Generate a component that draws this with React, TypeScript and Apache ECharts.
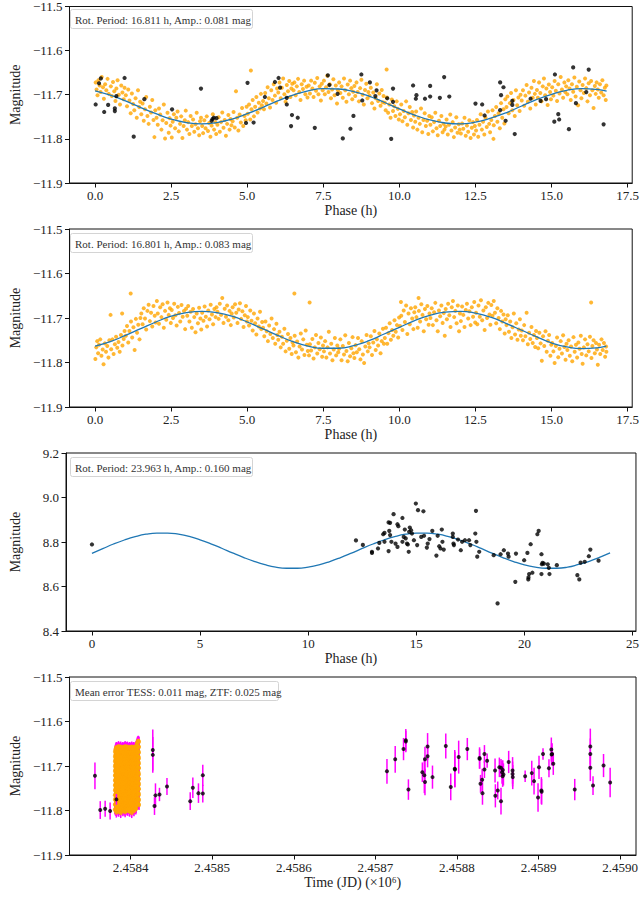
import React, { useEffect, useRef } from "react";
import * as echarts from "echarts";

const FONT = '"Liberation Serif", "DejaVu Serif", serif';

// ---------- Panel 1: TESS + ZTF phased, P = 16.811 h ----------
const p1Fit: [number, number][] = [
  [0, -11.691], [0.5, -11.701], [1, -11.714], [1.5, -11.729], [2, -11.743], [2.5, -11.755], [3, -11.763], [3.5, -11.766],
  [4, -11.763], [4.5, -11.755], [5, -11.743], [5.5, -11.729], [6, -11.714], [6.5, -11.701], [7, -11.691], [7.5, -11.686],
  [8, -11.687], [8.5, -11.693], [9, -11.703], [9.5, -11.717], [10, -11.732], [10.5, -11.746], [11, -11.757], [11.5, -11.764],
  [12, -11.766], [12.5, -11.762], [13, -11.753], [13.5, -11.741], [14, -11.726], [14.5, -11.711], [15, -11.699], [15.5, -11.690],
  [16, -11.686], [16.5, -11.688], [16.81, -11.692],
];

const p1Tess: [number, number][] = [
  [0.02,-11.672],[0.05,-11.688],[0.08,-11.701],[0.11,-11.667],[0.15,-11.679],[0.18,-11.694],[0.22,-11.660],[0.26,-11.683],[0.29,-11.709],[0.33,-11.676],[0.37,-11.690],[0.41,-11.664],[0.45,-11.698],
  [0.52,-11.681],[0.55,-11.703],[0.59,-11.671],[0.63,-11.692],[0.67,-11.714],[0.70,-11.686],[0.74,-11.667],[0.78,-11.700],[0.82,-11.722],[0.86,-11.679],[0.90,-11.695],[0.94,-11.710],[0.97,-11.684],
  [1.01,-11.701],[1.05,-11.726],[1.09,-11.688],[1.13,-11.713],[1.17,-11.742],[1.21,-11.697],[1.25,-11.721],[1.29,-11.735],[1.33,-11.708],[1.37,-11.752],[1.41,-11.690],[1.45,-11.728],[1.48,-11.716],
  [1.52,-11.744],[1.56,-11.720],[1.60,-11.759],[1.64,-11.733],[1.68,-11.705],[1.72,-11.748],[1.76,-11.766],[1.80,-11.727],[1.84,-11.740],[1.88,-11.712],[1.92,-11.757],[1.95,-11.796],[1.98,-11.735],
  [2.02,-11.752],[2.06,-11.768],[2.10,-11.731],[2.14,-11.745],[2.18,-11.779],[2.22,-11.758],[2.26,-11.722],[2.30,-11.799],[2.34,-11.764],[2.38,-11.741],[2.42,-11.786],[2.45,-11.753],[2.48,-11.770],
  [2.52,-11.797],[2.55,-11.761],[2.59,-11.744],[2.63,-11.776],[2.67,-11.752],[2.71,-11.738],[2.75,-11.783],[2.79,-11.766],[2.83,-11.749],[2.87,-11.798],[2.91,-11.771],[2.95,-11.758],[2.98,-11.736],
  [3.02,-11.779],[3.06,-11.762],[3.10,-11.789],[3.14,-11.748],[3.18,-11.771],[3.22,-11.756],[3.26,-11.784],[3.30,-11.767],[3.34,-11.741],[3.38,-11.776],[3.42,-11.792],[3.45,-11.760],[3.48,-11.752],
  [3.52,-11.771],[3.55,-11.787],[3.59,-11.758],[3.63,-11.776],[3.67,-11.749],[3.71,-11.782],[3.75,-11.764],[3.79,-11.795],[3.83,-11.770],[3.87,-11.744],[3.91,-11.779],[3.95,-11.762],[3.98,-11.789],
  [4.02,-11.768],[4.06,-11.751],[4.10,-11.784],[4.14,-11.762],[4.18,-11.740],[4.22,-11.775],[4.26,-11.757],[4.30,-11.793],[4.34,-11.766],[4.38,-11.746],[4.42,-11.779],[4.45,-11.755],[4.48,-11.769],
  [4.52,-11.760],[4.55,-11.739],[4.59,-11.774],[4.63,-11.692],[4.67,-11.752],[4.71,-11.781],[4.75,-11.745],[4.79,-11.763],[4.83,-11.730],[4.87,-11.771],[4.91,-11.748],[4.95,-11.758],[4.98,-11.727],
  [5.02,-11.743],[5.06,-11.722],[5.10,-11.756],[5.12,-11.645],[5.14,-11.733],[5.18,-11.712],[5.22,-11.749],[5.26,-11.727],[5.30,-11.705],[5.34,-11.740],[5.38,-11.718],[5.42,-11.731],[5.45,-11.698],[5.48,-11.724],
  [5.52,-11.714],[5.55,-11.733],[5.59,-11.696],[5.63,-11.720],[5.67,-11.683],[5.71,-11.708],[5.75,-11.729],[5.79,-11.690],[5.83,-11.712],[5.87,-11.676],[5.91,-11.702],[5.95,-11.718],[5.98,-11.686],
  [6.02,-11.695],[6.06,-11.672],[6.10,-11.708],[6.14,-11.684],[6.18,-11.663],[6.22,-11.699],[6.26,-11.716],[6.30,-11.678],[6.34,-11.692],[6.38,-11.669],[6.42,-11.705],[6.45,-11.686],[6.48,-11.675],
  [6.52,-11.690],[6.55,-11.672],[6.59,-11.701],[6.63,-11.681],[6.67,-11.664],[6.71,-11.694],[6.75,-11.712],[6.79,-11.676],[6.83,-11.687],[6.87,-11.668],[6.91,-11.699],[6.95,-11.682],[6.98,-11.706],
  [7.02,-11.679],[7.06,-11.697],[7.10,-11.668],[7.14,-11.686],[7.18,-11.705],[7.22,-11.673],[7.26,-11.691],[7.30,-11.662],[7.34,-11.699],[7.38,-11.681],[7.42,-11.713],[7.45,-11.675],[7.48,-11.690],
  [7.52,-11.668],[7.55,-11.699],[7.59,-11.683],[7.63,-11.657],[7.67,-11.694],[7.71,-11.676],[7.75,-11.708],[7.79,-11.688],[7.83,-11.665],[7.87,-11.701],[7.91,-11.679],[7.95,-11.720],[7.98,-11.690],
  [8.02,-11.672],[8.06,-11.696],[8.10,-11.681],[8.14,-11.707],[8.18,-11.663],[8.22,-11.690],[8.26,-11.716],[8.30,-11.677],[8.34,-11.699],[8.38,-11.668],[8.42,-11.685],[8.45,-11.710],[8.48,-11.693],
  [8.52,-11.680],[8.55,-11.703],[8.59,-11.672],[8.63,-11.694],[8.67,-11.715],[8.71,-11.685],[8.75,-11.666],[8.79,-11.700],[8.83,-11.722],[8.87,-11.689],[8.91,-11.675],[8.95,-11.708],[8.98,-11.694],
  [9.02,-11.702],[9.06,-11.684],[9.10,-11.719],[9.14,-11.695],[9.18,-11.731],[9.22,-11.708],[9.26,-11.676],[9.30,-11.714],[9.34,-11.697],[9.38,-11.725],[9.42,-11.689],[9.45,-11.717],[9.48,-11.703],
  [9.52,-11.718],[9.55,-11.735],[9.58,-11.643],[9.59,-11.706],[9.63,-11.741],[9.67,-11.722],[9.71,-11.752],[9.75,-11.711],[9.79,-11.737],[9.83,-11.726],[9.87,-11.748],[9.91,-11.715],[9.95,-11.732],[9.98,-11.756],
  [10.02,-11.744],[10.06,-11.722],[10.10,-11.760],[10.14,-11.737],[10.18,-11.751],[10.22,-11.715],[10.26,-11.768],[10.30,-11.742],[10.34,-11.728],[10.38,-11.757],[10.42,-11.739],[10.45,-11.774],[10.48,-11.747],
  [10.52,-11.761],[10.55,-11.738],[10.59,-11.779],[10.63,-11.752],[10.67,-11.766],[10.71,-11.731],[10.75,-11.785],[10.79,-11.757],[10.83,-11.742],[10.87,-11.771],[10.91,-11.759],[10.95,-11.789],[10.98,-11.748],
  [11.02,-11.768],[11.06,-11.751],[11.10,-11.783],[11.14,-11.762],[11.18,-11.741],[11.22,-11.776],[11.26,-11.792],[11.30,-11.759],[11.34,-11.771],[11.38,-11.748],[11.42,-11.785],[11.45,-11.766],[11.48,-11.779],
  [11.52,-11.772],[11.55,-11.756],[11.59,-11.790],[11.63,-11.768],[11.67,-11.745],[11.71,-11.781],[11.75,-11.762],[11.79,-11.796],[11.83,-11.774],[11.87,-11.751],[11.91,-11.786],[11.95,-11.767],[11.98,-11.779],
  [12.02,-11.788],[12.06,-11.765],[12.10,-11.777],[12.14,-11.752],[12.18,-11.793],[12.22,-11.770],[12.26,-11.784],[12.30,-11.758],[12.34,-11.798],[12.38,-11.775],[12.42,-11.762],[12.45,-11.790],[12.48,-11.771],
  [12.52,-11.781],[12.55,-11.757],[12.59,-11.795],[12.63,-11.768],[12.67,-11.744],[12.71,-11.779],[12.75,-11.761],[12.79,-11.790],[12.83,-11.752],[12.87,-11.773],[12.91,-11.738],[12.95,-11.766],[12.98,-11.785],
  [13.02,-11.757],[13.06,-11.735],[13.09,-11.800],[13.10,-11.769],[13.14,-11.748],[13.18,-11.728],[13.22,-11.761],[13.26,-11.742],[13.30,-11.776],[13.34,-11.719],[13.38,-11.752],[13.42,-11.733],[13.45,-11.765],[13.48,-11.710],
  [13.52,-11.728],[13.55,-11.704],[13.59,-11.742],[13.63,-11.719],[13.67,-11.696],[13.71,-11.735],[13.75,-11.712],[13.79,-11.748],[13.83,-11.690],[13.87,-11.724],[13.91,-11.706],[13.95,-11.737],[13.98,-11.700],
  [14.02,-11.713],[14.06,-11.690],[14.10,-11.725],[14.14,-11.702],[14.18,-11.678],[14.22,-11.716],[14.26,-11.695],[14.30,-11.731],[14.34,-11.684],[14.38,-11.707],[14.42,-11.669],[14.45,-11.698],[14.48,-11.722],
  [14.52,-11.689],[14.55,-11.707],[14.59,-11.672],[14.63,-11.696],[14.67,-11.715],[14.71,-11.681],[14.75,-11.663],[14.79,-11.701],[14.83,-11.686],[14.87,-11.723],[14.91,-11.677],[14.95,-11.694],[14.98,-11.710],
  [15.02,-11.683],[15.06,-11.702],[15.10,-11.669],[15.14,-11.691],[15.18,-11.714],[15.22,-11.676],[15.26,-11.697],[15.30,-11.660],[15.34,-11.688],[15.38,-11.707],[15.42,-11.672],[15.45,-11.694],[15.48,-11.681],
  [15.52,-11.699],[15.55,-11.667],[15.59,-11.686],[15.63,-11.712],[15.67,-11.676],[15.71,-11.693],[15.75,-11.661],[15.79,-11.704],[15.83,-11.682],[15.87,-11.724],[15.91,-11.670],[15.95,-11.690],[15.98,-11.708],
  [16.02,-11.678],[16.06,-11.696],[16.10,-11.663],[16.14,-11.685],[16.18,-11.715],[16.22,-11.674],[16.26,-11.701],[16.30,-11.669],[16.34,-11.690],[16.38,-11.730],[16.42,-11.680],[16.45,-11.698],[16.48,-11.672],
  [16.52,-11.688],[16.55,-11.707],[16.59,-11.676],[16.63,-11.695],[16.67,-11.667],[16.71,-11.701],[16.75,-11.684],[16.78,-11.712],[16.80,-11.679],
];

const p1Ztf: [number, number][] = [
  [0.02,-11.722],[0.13,-11.674],[0.19,-11.663],[0.30,-11.739],[0.43,-11.723],[0.65,-11.731],[0.65,-11.737],[0.70,-11.703],
  [0.97,-11.662],[1.27,-11.795],[1.62,-11.710],[2.53,-11.733],[3.48,-11.686],[3.83,-11.759],[3.86,-11.755],[3.90,-11.752],
  [3.99,-11.753],[4.96,-11.764],[5.01,-11.673],[5.21,-11.763],[5.58,-11.705],[5.91,-11.671],[6.03,-11.662],[6.08,-11.684],
  [6.30,-11.707],[6.30,-11.722],[6.47,-11.746],[6.44,-11.771],[6.66,-11.752],[7.22,-11.775],[7.65,-11.656],[7.70,-11.678],
  [7.97,-11.698],[8.14,-11.799],[8.39,-11.777],[8.49,-11.748],[8.75,-11.654],[8.78,-11.713],[9.03,-11.672],[9.21,-11.703],
  [9.25,-11.690],[9.60,-11.708],[9.73,-11.800],[9.79,-11.716],[9.79,-11.686],[10.45,-11.679],[10.54,-11.709],[10.56,-11.701],
  [10.84,-11.709],[11.01,-11.680],[11.01,-11.704],[11.33,-11.707],[11.47,-11.660],[11.64,-11.704],[12.50,-11.720],[12.72,-11.722],
  [12.80,-11.747],[13.31,-11.735],[13.31,-11.672],[13.42,-11.683],[13.34,-11.701],[13.49,-11.759],[13.71,-11.714],[13.71,-11.723],
  [13.79,-11.789],[14.31,-11.709],[14.64,-11.714],[14.82,-11.710],[15.09,-11.761],[15.11,-11.654],[15.22,-11.744],[15.25,-11.756],
  [15.57,-11.778],[15.71,-11.638],[15.80,-11.719],[16.14,-11.694],[16.22,-11.643],[16.71,-11.767],
];

// ---------- Panel 2: TESS phased, P = 16.801 h ----------
const p2Fit: [number, number][] = [
  [0, -11.763], [0.5, -11.753], [1, -11.739], [1.5, -11.724], [2, -11.709], [2.5, -11.696], [3, -11.688], [3.5, -11.685],
  [4, -11.688], [4.5, -11.696], [5, -11.709], [5.5, -11.724], [6, -11.739], [6.5, -11.753], [7, -11.763], [7.5, -11.768],
  [8, -11.768], [8.5, -11.762], [9, -11.751], [9.5, -11.736], [10, -11.721], [10.5, -11.706], [11, -11.694], [11.5, -11.687],
  [12, -11.685], [12.5, -11.689], [13, -11.698], [13.5, -11.712], [14, -11.727], [14.5, -11.742], [15, -11.756], [15.5, -11.765],
  [16, -11.769], [16.5, -11.767], [16.8, -11.763],
];

const p2Tess: [number, number][] = [
  [0.01,-11.792],[0.04,-11.766],[0.07,-11.752],[0.10,-11.779],[0.13,-11.760],[0.17,-11.748],[0.21,-11.785],[0.25,-11.771],[0.28,-11.804],[0.32,-11.757],[0.36,-11.776],[0.40,-11.763],[0.44,-11.789],[0.47,-11.750],
  [0.51,-11.693],[0.53,-11.770],[0.57,-11.748],[0.61,-11.781],[0.65,-11.759],[0.69,-11.742],[0.73,-11.767],[0.77,-11.754],[0.81,-11.776],[0.85,-11.738],[0.89,-11.690],[0.90,-11.762],[0.94,-11.747],[0.97,-11.729],
  [1.01,-11.740],[1.05,-11.718],[1.09,-11.755],[1.13,-11.729],[1.17,-11.645],[1.18,-11.708],[1.22,-11.744],[1.26,-11.721],[1.30,-11.772],[1.34,-11.702],[1.38,-11.733],[1.42,-11.715],[1.46,-11.748],[1.49,-11.700],
  [1.52,-11.690],[1.56,-11.714],[1.60,-11.678],[1.64,-11.701],[1.68,-11.726],[1.72,-11.684],[1.76,-11.670],[1.80,-11.707],[1.84,-11.688],[1.88,-11.719],[1.92,-11.673],[1.96,-11.695],[1.99,-11.710],
  [2.03,-11.662],[2.06,-11.690],[2.10,-11.713],[2.14,-11.676],[2.18,-11.698],[2.22,-11.669],[2.26,-11.722],[2.30,-11.684],[2.34,-11.704],[2.38,-11.665],[2.42,-11.693],[2.46,-11.678],[2.49,-11.711],
  [2.52,-11.682],[2.56,-11.700],[2.60,-11.668],[2.64,-11.694],[2.68,-11.717],[2.72,-11.675],[2.76,-11.689],[2.80,-11.708],[2.84,-11.671],[2.88,-11.697],[2.92,-11.684],[2.96,-11.725],[2.99,-11.679],
  [3.03,-11.695],[3.06,-11.673],[3.10,-11.708],[3.14,-11.686],[3.18,-11.722],[3.22,-11.680],[3.26,-11.698],[3.30,-11.732],[3.34,-11.690],[3.38,-11.712],[3.42,-11.677],[3.46,-11.701],[3.49,-11.726],
  [3.52,-11.688],[3.56,-11.706],[3.60,-11.674],[3.64,-11.697],[3.68,-11.719],[3.72,-11.683],[3.76,-11.703],[3.80,-11.670],[3.84,-11.692],[3.88,-11.714],[3.92,-11.680],[3.96,-11.698],[3.99,-11.676],
  [4.02,-11.686],[4.06,-11.702],[4.10,-11.668],[4.14,-11.693],[4.18,-11.655],[4.22,-11.711],[4.26,-11.679],[4.30,-11.697],[4.34,-11.672],[4.38,-11.705],[4.42,-11.684],[4.46,-11.716],[4.49,-11.690],
  [4.52,-11.676],[4.56,-11.699],[4.60,-11.669],[4.64,-11.688],[4.68,-11.711],[4.72,-11.681],[4.76,-11.667],[4.80,-11.702],[4.84,-11.685],[4.88,-11.720],[4.92,-11.694],[4.96,-11.673],[4.99,-11.708],
  [5.02,-11.698],[5.06,-11.717],[5.10,-11.683],[5.14,-11.706],[5.18,-11.728],[5.22,-11.690],[5.26,-11.712],[5.30,-11.737],[5.34,-11.701],[5.38,-11.719],[5.42,-11.686],[5.46,-11.725],[5.49,-11.709],
  [5.52,-11.722],[5.56,-11.741],[5.60,-11.708],[5.64,-11.730],[5.68,-11.752],[5.72,-11.717],[5.76,-11.736],[5.80,-11.701],[5.84,-11.745],[5.88,-11.725],[5.92,-11.758],[5.96,-11.713],[5.99,-11.738],
  [6.02,-11.749],[6.06,-11.731],[6.10,-11.766],[6.14,-11.742],[6.18,-11.758],[6.22,-11.724],[6.26,-11.775],[6.30,-11.751],[6.34,-11.736],[6.38,-11.769],[6.42,-11.745],[6.46,-11.781],[6.49,-11.755],
  [6.52,-11.762],[6.55,-11.645],[6.56,-11.740],[6.60,-11.777],[6.64,-11.753],[6.68,-11.789],[6.72,-11.764],[6.76,-11.735],[6.80,-11.771],[6.84,-11.748],[6.88,-11.783],[6.92,-11.728],[6.96,-11.760],[6.99,-11.774],
  [7.03,-11.784],[7.05,-11.665],[7.06,-11.759],[7.10,-11.773],[7.14,-11.747],[7.18,-11.791],[7.22,-11.766],[7.26,-11.738],[7.30,-11.780],[7.34,-11.756],[7.38,-11.770],[7.42,-11.744],[7.46,-11.787],[7.49,-11.762],
  [7.52,-11.775],[7.56,-11.752],[7.60,-11.789],[7.64,-11.766],[7.68,-11.731],[7.72,-11.780],[7.76,-11.758],[7.80,-11.795],[7.84,-11.771],[7.88,-11.745],[7.92,-11.784],[7.96,-11.762],[7.99,-11.777],
  [8.02,-11.769],[8.06,-11.748],[8.10,-11.795],[8.14,-11.763],[8.18,-11.782],[8.22,-11.739],[8.26,-11.774],[8.30,-11.797],[8.34,-11.756],[8.38,-11.786],[8.42,-11.768],[8.46,-11.743],[8.49,-11.779],
  [8.52,-11.790],[8.56,-11.761],[8.60,-11.777],[8.64,-11.745],[8.68,-11.770],[8.72,-11.793],[8.76,-11.752],[8.80,-11.782],[8.84,-11.801],[8.88,-11.764],[8.92,-11.738],[8.96,-11.775],[8.99,-11.757],
  [9.02,-11.766],[9.06,-11.741],[9.10,-11.783],[9.14,-11.755],[9.18,-11.729],[9.22,-11.772],[9.26,-11.748],[9.30,-11.762],[9.34,-11.735],[9.38,-11.779],[9.42,-11.752],[9.46,-11.724],[9.49,-11.758],
  [9.52,-11.745],[9.56,-11.722],[9.60,-11.758],[9.64,-11.734],[9.68,-11.712],[9.72,-11.749],[9.76,-11.727],[9.80,-11.740],[9.84,-11.705],[9.88,-11.731],[9.92,-11.716],[9.96,-11.744],[9.99,-11.699],
  [10.02,-11.718],[10.05,-11.664],[10.06,-11.695],[10.10,-11.727],[10.14,-11.683],[10.18,-11.709],[10.22,-11.672],[10.26,-11.736],[10.30,-11.690],[10.34,-11.714],[10.38,-11.678],[10.42,-11.701],[10.46,-11.725],[10.49,-11.687],
  [10.52,-11.676],[10.56,-11.698],[10.60,-11.722],[10.63,-11.655],[10.64,-11.684],[10.68,-11.708],[10.72,-11.669],[10.76,-11.693],[10.80,-11.730],[10.84,-11.680],[10.88,-11.703],[10.92,-11.673],[10.96,-11.715],[10.99,-11.690],
  [11.02,-11.700],[11.06,-11.678],[11.10,-11.716],[11.14,-11.687],[11.18,-11.666],[11.22,-11.705],[11.26,-11.730],[11.30,-11.683],[11.34,-11.696],[11.38,-11.672],[11.42,-11.711],[11.46,-11.689],[11.49,-11.740],
  [11.52,-11.680],[11.56,-11.703],[11.60,-11.668],[11.64,-11.694],[11.68,-11.720],[11.72,-11.676],[11.76,-11.662],[11.80,-11.698],[11.84,-11.684],[11.88,-11.712],[11.92,-11.672],[11.96,-11.730],[11.99,-11.690],
  [12.02,-11.707],[12.06,-11.674],[12.10,-11.693],[12.14,-11.720],[12.18,-11.682],[12.22,-11.668],[12.26,-11.701],[12.30,-11.685],[12.34,-11.716],[12.38,-11.676],[12.42,-11.697],[12.46,-11.664],[12.49,-11.710],
  [12.52,-11.688],[12.56,-11.714],[12.60,-11.672],[12.64,-11.697],[12.68,-11.660],[12.72,-11.705],[12.76,-11.683],[12.80,-11.727],[12.84,-11.676],[12.88,-11.700],[12.92,-11.666],[12.96,-11.692],[12.99,-11.715],
  [13.02,-11.671],[13.06,-11.695],[13.10,-11.662],[13.14,-11.688],[13.18,-11.712],[13.22,-11.678],[13.26,-11.700],[13.30,-11.725],[13.34,-11.684],[13.38,-11.708],[13.42,-11.692],[13.46,-11.735],[13.49,-11.703],
  [13.52,-11.716],[13.56,-11.694],[13.60,-11.731],[13.64,-11.708],[13.68,-11.745],[13.72,-11.721],[13.76,-11.690],[13.80,-11.737],[13.84,-11.712],[13.88,-11.749],[13.92,-11.726],[13.96,-11.703],[13.99,-11.740],
  [14.02,-11.728],[14.06,-11.750],[14.10,-11.716],[14.14,-11.741],[14.18,-11.688],[14.22,-11.759],[14.26,-11.733],[14.30,-11.747],[14.34,-11.720],[14.38,-11.756],[14.42,-11.738],[14.46,-11.765],[14.49,-11.729],
  [14.52,-11.745],[14.56,-11.768],[14.60,-11.733],[14.64,-11.757],[14.68,-11.796],[14.72,-11.741],[14.76,-11.763],[14.80,-11.730],[14.84,-11.776],[14.88,-11.751],[14.92,-11.738],[14.96,-11.785],[14.99,-11.760],
  [15.02,-11.756],[15.06,-11.775],[15.10,-11.801],[15.14,-11.763],[15.18,-11.744],[15.22,-11.788],[15.26,-11.769],[15.30,-11.752],[15.34,-11.780],[15.38,-11.739],[15.42,-11.765],[15.46,-11.794],[15.49,-11.758],
  [15.52,-11.772],[15.56,-11.750],[15.60,-11.785],[15.64,-11.764],[15.68,-11.797],[15.72,-11.743],[15.76,-11.776],[15.80,-11.760],[15.84,-11.789],[15.88,-11.755],[15.92,-11.769],[15.96,-11.740],[15.99,-11.781],
  [16.02,-11.803],[16.06,-11.766],[16.10,-11.748],[16.14,-11.784],[16.18,-11.759],[16.22,-11.775],[16.26,-11.742],[16.30,-11.665],[16.31,-11.790],[16.34,-11.763],[16.38,-11.750],[16.42,-11.779],[16.46,-11.756],[16.49,-11.771],
  [16.52,-11.805],[16.56,-11.760],[16.60,-11.781],[16.64,-11.748],[16.68,-11.772],[16.72,-11.756],[16.76,-11.787],[16.79,-11.764],[16.80,-11.776],
];

// ---------- Panel 3: ZTF phased, P = 23.963 h ----------
const p3Fit: [number, number][] = [
  [0, 8.749], [0.5, 8.770], [1, 8.791], [1.5, 8.809], [2, 8.824], [2.5, 8.835], [3, 8.840], [3.5, 8.840], [4, 8.835],
  [4.5, 8.825], [5, 8.810], [5.5, 8.792], [6, 8.772], [6.5, 8.751], [7, 8.731], [7.5, 8.713], [8, 8.698], [8.5, 8.687],
  [9, 8.682], [9.5, 8.682], [10, 8.687], [10.5, 8.697], [11, 8.712], [11.5, 8.730], [12, 8.750], [12.5, 8.771], [13, 8.791],
  [13.5, 8.809], [14, 8.824], [14.5, 8.835], [15, 8.840], [15.5, 8.840], [16, 8.835], [16.5, 8.824], [17, 8.809], [17.5, 8.791],
  [18, 8.771], [18.5, 8.750], [19, 8.730], [19.5, 8.712], [20, 8.697], [20.5, 8.687], [21, 8.682], [21.5, 8.682], [22, 8.687],
  [22.5, 8.699], [23, 8.713], [23.5, 8.732], [23.963, 8.751],
];

const p3Ztf: [number, number][] = [
  [0,8.789],[12.21,8.807],[12.53,8.787],[12.95,8.756],[12.95,8.751],[13.23,8.771],[13.29,8.796],[13.47,8.835],[13.53,8.841],
  [13.53,8.801],[13.72,8.759],[13.72,8.888],[13.79,8.886],[13.75,8.850],[13.79,8.831],[13.85,8.801],[13.95,8.925],[14.04,8.793],
  [14.13,8.778],[14.13,8.880],[14.17,8.871],[14.36,8.801],[14.42,8.823],[14.36,8.908],[14.47,8.856],[14.51,8.816],[14.57,8.793],
  [14.61,8.789],[14.65,8.756],[14.67,8.846],[14.70,8.865],[14.76,8.853],[14.80,8.838],[14.89,8.808],[14.98,8.973],[15.04,8.786],
  [15.08,8.943],[15.23,8.823],[15.36,8.828],[15.33,8.938],[15.49,8.775],[15.53,8.793],[15.61,8.813],[15.74,8.850],[15.93,8.739],
  [15.99,8.828],[16.06,8.781],[16.12,8.771],[16.18,8.856],[16.21,8.801],[16.27,8.766],[16.69,8.838],[16.69,8.823],[16.72,8.793],
  [16.74,8.786],[16.93,8.811],[17.06,8.763],[17.12,8.801],[17.25,8.808],[17.44,8.808],[17.50,8.786],[17.73,8.838],[17.76,8.940],
  [17.78,8.801],[17.82,8.734],[17.91,8.756],[18.58,8.741],[18.76,8.524],[18.90,8.745],[19.05,8.763],[19.24,8.748],[19.27,8.734],
  [19.58,8.621],[19.61,8.748],[19.99,8.718],[20.14,8.751],[20.18,8.632],[20.19,8.641],[20.22,8.656],[20.29,8.790],[20.37,8.662],
  [20.60,8.835],[20.66,8.850],[20.79,8.745],[20.84,8.706],[20.81,8.700],[20.90,8.703],[20.79,8.656],[21.08,8.700],[21.13,8.684],
  [21.16,8.656],[21.50,8.696],[22.45,8.651],[22.54,8.632],[22.60,8.707],[22.79,8.711],[22.98,8.736],[23.05,8.766],[23.43,8.716],
];

// ---------- Panel 4: light curve vs time (JD), TESS + ZTF with errors ----------
const tessErr = 0.011;
const tessCols: [number, number[]][] = [
  [2458380.6, [-11.668,-11.679,-11.690,-11.701,-11.712,-11.722,-11.733,-11.744,-11.755,-11.766,-11.776,-11.787,-11.797]],
  [2458381.1, [-11.664,-11.676,-11.687,-11.698,-11.709,-11.720,-11.731,-11.742,-11.753,-11.764,-11.775,-11.786,-11.799]],
  [2458381.5, [-11.661,-11.673,-11.684,-11.696,-11.707,-11.718,-11.729,-11.740,-11.750,-11.763,-11.772,-11.784,-11.801]],
  [2458382.0, [-11.659,-11.670,-11.681,-11.693,-11.704,-11.715,-11.726,-11.737,-11.748,-11.759,-11.770,-11.781,-11.795]],
  [2458382.4, [-11.657,-11.668,-11.679,-11.689,-11.699,-11.712,-11.724,-11.736,-11.746,-11.757,-11.768,-11.779,-11.790,-11.805]],
  [2458382.9, [-11.660,-11.672,-11.683,-11.694,-11.706,-11.717,-11.728,-11.739,-11.750,-11.761,-11.772,-11.783,-11.798]],
  [2458383.3, [-11.663,-11.675,-11.688,-11.697,-11.710,-11.720,-11.731,-11.741,-11.753,-11.766,-11.779,-11.788,-11.798]],
  [2458383.8, [-11.661,-11.672,-11.684,-11.695,-11.707,-11.718,-11.729,-11.740,-11.751,-11.762,-11.774,-11.786,-11.796]],
  [2458384.2, [-11.659,-11.670,-11.681,-11.692,-11.704,-11.715,-11.727,-11.738,-11.749,-11.760,-11.770,-11.782,-11.794]],
  [2458384.7, [-11.657,-11.668,-11.679,-11.690,-11.702,-11.713,-11.724,-11.735,-11.747,-11.758,-11.769,-11.780,-11.791,-11.802]],
  [2458385.1, [-11.655,-11.666,-11.677,-11.689,-11.701,-11.712,-11.722,-11.733,-11.744,-11.755,-11.767,-11.778,-11.789,-11.803]],
  [2458385.6, [-11.659,-11.670,-11.682,-11.693,-11.705,-11.716,-11.727,-11.738,-11.749,-11.760,-11.771,-11.782,-11.795]],
  [2458386.0, [-11.662,-11.674,-11.686,-11.694,-11.708,-11.719,-11.730,-11.741,-11.757,-11.764,-11.775,-11.787,-11.799]],
  [2458386.5, [-11.660,-11.671,-11.683,-11.694,-11.705,-11.716,-11.728,-11.739,-11.750,-11.761,-11.773,-11.784,-11.795]],
  [2458386.9, [-11.658,-11.669,-11.680,-11.691,-11.703,-11.712,-11.726,-11.737,-11.748,-11.761,-11.771,-11.781,-11.792]],
  [2458387.4, [-11.657,-11.668,-11.679,-11.690,-11.701,-11.713,-11.724,-11.735,-11.746,-11.757,-11.768,-11.779,-11.790,-11.803]],
  [2458387.8, [-11.656,-11.667,-11.679,-11.689,-11.700,-11.711,-11.723,-11.735,-11.745,-11.756,-11.766,-11.777,-11.788,-11.806]],
  [2458388.3, [-11.660,-11.671,-11.683,-11.694,-11.705,-11.716,-11.727,-11.738,-11.749,-11.760,-11.772,-11.784,-11.797]],
  [2458388.7, [-11.664,-11.676,-11.687,-11.698,-11.709,-11.720,-11.732,-11.743,-11.754,-11.765,-11.777,-11.787,-11.797]],
  [2458389.2, [-11.662,-11.673,-11.685,-11.696,-11.707,-11.718,-11.729,-11.741,-11.752,-11.763,-11.774,-11.785,-11.796]],
  [2458389.6, [-11.660,-11.671,-11.683,-11.694,-11.705,-11.716,-11.728,-11.740,-11.751,-11.759,-11.773,-11.784,-11.795]],
  [2458390.1, [-11.658,-11.669,-11.680,-11.691,-11.703,-11.714,-11.725,-11.736,-11.747,-11.758,-11.770,-11.781,-11.792,-11.800]],
  [2458390.5, [-11.657,-11.668,-11.678,-11.690,-11.702,-11.713,-11.725,-11.737,-11.747,-11.758,-11.769,-11.780,-11.791,-11.802]],
  [2458391.0, [-11.659,-11.670,-11.682,-11.693,-11.705,-11.716,-11.727,-11.738,-11.749,-11.760,-11.772,-11.784,-11.796]],
  [2458391.4, [-11.661,-11.673,-11.685,-11.695,-11.707,-11.718,-11.729,-11.740,-11.752,-11.764,-11.776,-11.787,-11.798]],
  [2458391.9, [-11.660,-11.671,-11.683,-11.694,-11.706,-11.717,-11.728,-11.739,-11.750,-11.761,-11.773,-11.784,-11.796]],
  [2458392.3, [-11.659,-11.670,-11.682,-11.693,-11.706,-11.713,-11.726,-11.737,-11.749,-11.762,-11.772,-11.782,-11.793]],
  [2458392.8, [-11.657,-11.668,-11.680,-11.691,-11.702,-11.713,-11.725,-11.736,-11.747,-11.758,-11.769,-11.780,-11.791,-11.801]],
  [2458393.2, [-11.655,-11.667,-11.680,-11.690,-11.701,-11.712,-11.724,-11.734,-11.746,-11.757,-11.768,-11.778,-11.789,-11.804]],
  [2458393.7, [-11.659,-11.671,-11.682,-11.694,-11.705,-11.716,-11.727,-11.738,-11.750,-11.761,-11.772,-11.783,-11.795]],
  [2458394.1, [-11.663,-11.675,-11.686,-11.699,-11.710,-11.720,-11.731,-11.742,-11.755,-11.766,-11.778,-11.787,-11.796]],
  [2458394.6, [-11.661,-11.672,-11.684,-11.695,-11.706,-11.718,-11.729,-11.740,-11.751,-11.762,-11.774,-11.785,-11.795]],
  [2458395.0, [-11.658,-11.670,-11.681,-11.692,-11.704,-11.717,-11.727,-11.738,-11.750,-11.758,-11.770,-11.782,-11.794]],
  [2458395.5, [-11.657,-11.668,-11.679,-11.690,-11.702,-11.713,-11.724,-11.735,-11.746,-11.757,-11.768,-11.779,-11.790,-11.799]],
  [2458395.9, [-11.656,-11.667,-11.679,-11.690,-11.700,-11.711,-11.722,-11.738,-11.744,-11.756,-11.767,-11.778,-11.790,-11.801]],
  [2458396.4, [-11.659,-11.671,-11.682,-11.693,-11.705,-11.716,-11.727,-11.738,-11.749,-11.760,-11.772,-11.783,-11.796]],
  [2458396.8, [-11.662,-11.673,-11.684,-11.696,-11.708,-11.719,-11.730,-11.745,-11.753,-11.763,-11.774,-11.786,-11.797]],
  [2458397.3, [-11.661,-11.672,-11.684,-11.695,-11.706,-11.717,-11.728,-11.739,-11.751,-11.762,-11.773,-11.784,-11.796]],
  [2458397.7, [-11.660,-11.671,-11.683,-11.694,-11.705,-11.714,-11.727,-11.738,-11.750,-11.761,-11.773,-11.784,-11.795]],
  [2458398.2, [-11.658,-11.669,-11.680,-11.691,-11.703,-11.714,-11.725,-11.736,-11.748,-11.759,-11.770,-11.781,-11.792,-11.801]],
  [2458398.6, [-11.657,-11.668,-11.678,-11.690,-11.702,-11.713,-11.724,-11.733,-11.747,-11.758,-11.769,-11.780,-11.790,-11.803]],
  [2458399.1, [-11.659,-11.670,-11.682,-11.693,-11.705,-11.716,-11.727,-11.738,-11.749,-11.760,-11.772,-11.784,-11.797]],
  [2458399.5, [-11.661,-11.673,-11.686,-11.693,-11.709,-11.720,-11.732,-11.744,-11.754,-11.766,-11.777,-11.788,-11.799]],
  [2458400.0, [-11.660,-11.671,-11.683,-11.694,-11.706,-11.717,-11.728,-11.739,-11.750,-11.761,-11.773,-11.784,-11.796]],
  [2458400.4, [-11.659,-11.670,-11.681,-11.692,-11.703,-11.711,-11.726,-11.737,-11.748,-11.758,-11.771,-11.782,-11.793]],
  [2458400.9, [-11.657,-11.668,-11.680,-11.691,-11.702,-11.713,-11.724,-11.736,-11.747,-11.758,-11.769,-11.780,-11.791,-11.803]],
  [2458401.3, [-11.656,-11.667,-11.679,-11.690,-11.701,-11.712,-11.723,-11.736,-11.745,-11.756,-11.768,-11.778,-11.788,-11.806]],
  [2458401.8, [-11.660,-11.671,-11.683,-11.694,-11.705,-11.716,-11.727,-11.739,-11.750,-11.761,-11.772,-11.784,-11.796]],
  [2458402.2, [-11.663,-11.675,-11.687,-11.697,-11.709,-11.720,-11.731,-11.742,-11.756,-11.766,-11.776,-11.786,-11.796]],
  [2458402.7, [-11.661,-11.672,-11.684,-11.695,-11.706,-11.718,-11.729,-11.740,-11.751,-11.763,-11.774,-11.785,-11.795]],
  [2458403.1, [-11.658,-11.669,-11.680,-11.692,-11.704,-11.716,-11.728,-11.739,-11.750,-11.760,-11.772,-11.783,-11.794]],
  [2458403.6, [-11.657,-11.668,-11.679,-11.690,-11.702,-11.713,-11.724,-11.735,-11.747,-11.758,-11.769,-11.780,-11.791,-11.800]],
  [2458404.0, [-11.657,-11.668,-11.678,-11.689,-11.700,-11.712,-11.725,-11.734,-11.747,-11.758,-11.769,-11.780,-11.791,-11.802]],
  [2458404.5, [-11.660,-11.671,-11.682,-11.694,-11.705,-11.716,-11.727,-11.738,-11.750,-11.761,-11.772,-11.783,-11.796]],
  [2458404.9, [-11.662,-11.674,-11.685,-11.698,-11.707,-11.719,-11.730,-11.743,-11.752,-11.764,-11.775,-11.786,-11.797]],
  [2458405.4, [-11.661,-11.672,-11.684,-11.695,-11.706,-11.717,-11.728,-11.740,-11.751,-11.762,-11.773,-11.784,-11.795]],
  [2458405.8, [-11.660,-11.671,-11.682,-11.694,-11.706,-11.714,-11.727,-11.738,-11.749,-11.759,-11.773,-11.783,-11.792]],
  [2458406.3, [-11.657,-11.668,-11.680,-11.691,-11.702,-11.713,-11.725,-11.736,-11.747,-11.758,-11.769,-11.780,-11.791,-11.798]],
  [2458406.7, [-11.655,-11.667,-11.679,-11.690,-11.701,-11.712,-11.724,-11.736,-11.746,-11.756,-11.767,-11.778,-11.789,-11.795]],
  [2458407.2, [-11.652,-11.664,-11.676,-11.688,-11.699,-11.710,-11.722,-11.733,-11.745,-11.756,-11.767,-11.778,-11.788]],
  [2458407.6, [-11.650,-11.662,-11.674,-11.686,-11.697,-11.708,-11.721,-11.732,-11.744,-11.757,-11.766,-11.777,-11.787]],
  [2458408.1, [-11.647,-11.659,-11.671,-11.683,-11.695,-11.706,-11.718,-11.729,-11.741,-11.753,-11.764,-11.776,-11.786]],
  [2458408.5, [-11.645,-11.657,-11.668,-11.680,-11.692,-11.703,-11.716,-11.728,-11.740,-11.752,-11.763,-11.775,-11.786]],
  [2458409.0, [-11.644,-11.656,-11.667,-11.679,-11.691,-11.702,-11.714,-11.726,-11.738,-11.750,-11.761,-11.773,-11.785]],
  [2458409.4, [-11.643,-11.655,-11.666,-11.678,-11.690,-11.702,-11.713,-11.728,-11.737,-11.749,-11.760,-11.774,-11.784]],
  [2458409.8, [-11.644,-11.656,-11.668,-11.680,-11.692,-11.704,-11.716,-11.727,-11.739,-11.751,-11.762,-11.774,-11.786]],
  [2458410.2, [-11.646,-11.658,-11.670,-11.683,-11.695,-11.705,-11.719,-11.730,-11.742,-11.752,-11.765,-11.777,-11.788]],
];

// [JD, magnitude, error]
const ztfTime: [number, number, number][] = [
  [2458356.2,-11.722,0.030],[2458362.7,-11.799,0.020],[2458368.7,-11.796,0.018],[2458374.8,-11.801,0.019],[2458382.5,-11.775,0.012],
  [2458427.1,-11.664,0.046],[2458427.1,-11.675,0.040],[2458429.2,-11.790,0.020],[2458430.4,-11.766,0.027],[2458435.3,-11.764,0.015],
  [2458444.5,-11.746,0.019],[2458473.0,-11.779,0.020],[2458476.2,-11.749,0.023],[2458483.1,-11.761,0.022],[2458488.4,-11.721,0.024],
  [2458488.4,-11.762,0.020],
  [2458714.2,-11.712,0.028],[2458724.3,-11.685,0.030],[2458734.5,-11.662,0.025],[2458737.3,-11.642,0.025],[2458737.3,-11.645,0.024],
  [2458740.5,-11.753,0.023],[2458757.6,-11.714,0.022],[2458760.0,-11.721,0.040],[2458760.8,-11.685,0.028],[2458760.8,-11.736,0.030],
  [2458764.0,-11.656,0.030],[2458764.0,-11.678,0.025],[2458770.0,-11.725,0.026],[2458786.3,-11.655,0.028],[2458792.4,-11.747,0.030],
  [2458797.3,-11.706,0.042],[2458797.5,-11.708,0.040],[2458802.1,-11.680,0.037],[2458812.7,-11.662,0.025],[2458827.7,-11.682,0.024],
  [2458827.8,-11.684,0.022],[2458828.9,-11.740,0.020],[2458830.9,-11.731,0.025],[2458831.3,-11.761,0.026],[2458833.7,-11.673,0.020],
  [2458833.7,-11.708,0.019],[2458837.0,-11.688,0.016],[2458846.7,-11.710,0.027],[2458847.1,-11.767,0.026],[2458850.0,-11.755,0.020],
  [2458852.0,-11.703,0.022],[2458854.0,-11.704,0.020],[2458854.0,-11.779,0.030],[2458855.3,-11.714,0.026],[2458856.0,-11.723,0.024],
  [2458856.2,-11.709,0.022],[2458857.0,-11.719,0.025],[2458863.4,-11.691,0.025],[2458868.2,-11.710,0.030],[2458868.2,-11.718,0.028],
  [2458868.4,-11.725,0.027],[2458883.6,-11.723,0.013],[2458891.7,-11.716,0.028],[2458894.5,-11.734,0.030],[2458899.4,-11.771,0.032],
  [2458900.6,-11.703,0.026],[2458903.5,-11.755,0.030],[2458903.8,-11.758,0.029],[2458905.5,-11.673,0.013],[2458912.8,-11.705,0.020],
  [2458915.7,-11.663,0.027],[2458916.0,-11.674,0.025],[2458916.6,-11.673,0.024],[2458918.1,-11.695,0.025],[2458944.4,-11.753,0.024],
  [2458963.5,-11.656,0.040],[2458963.5,-11.673,0.035],[2458963.5,-11.704,0.030],[2458966.8,-11.744,0.021],[2458979.7,-11.699,0.026],
  [2458987.8,-11.737,0.033],
];

const phaseTicks = [0, 2.5, 5, 7.5, 10, 12.5, 15, 17.5];
const phase3Ticks = [0, 5, 10, 15, 20, 25];
const jdTicks = [2458400, 2458500, 2458600, 2458700, 2458800, 2458900, 2459000];

const legendTexts = [
  "Rot. Period: 16.811 h, Amp.: 0.081 mag",
  "Rot. Period: 16.801 h, Amp.: 0.083 mag",
  "Rot. Period: 23.963 h, Amp.: 0.160 mag",
  "Mean error TESS: 0.011 mag, ZTF: 0.025 mag",
];

const GRID_TOPS = [5, 229, 453, 677];
const GRID_H = 178;
const GRID_LEFT = 66;
const GRID_W = 570;
const LEGEND_W = [182, 182, 182, 208];

const TXT = "#222";
const fmtY = (v: number) => v.toFixed(1).replace("-", "\u2212");

function xAxisCfg(i: number, min: number, max: number, ticks: number[], fmt: (v: number) => string, name: string) {
  return {
    type: "value", gridIndex: i, min, max,
    axisLine: { show: true, onZero: false, lineStyle: { color: "#111", width: 1 } },
    axisTick: { show: true, length: 4.5, customValues: ticks, lineStyle: { color: "#111", width: 1 } },
    axisLabel: { customValues: ticks, formatter: fmt, fontFamily: FONT, fontSize: 13, color: TXT, margin: 6 },
    splitLine: { show: false },
    name, nameLocation: "middle", nameGap: 20,
    nameTextStyle: { fontFamily: FONT, fontSize: 14, color: TXT },
  };
}

function yAxisCfg(i: number, min: number, max: number, interval: number) {
  return {
    type: "value", gridIndex: i, min, max, interval,
    axisLine: { show: true, onZero: false, lineStyle: { color: "#111", width: 1 } },
    axisTick: { show: true, length: 4.5, lineStyle: { color: "#111", width: 1 } },
    axisLabel: { formatter: fmtY, fontFamily: FONT, fontSize: 13, color: TXT, margin: 7 },
    splitLine: { show: false },
    name: "Magnitude", nameLocation: "middle", nameGap: 44,
    nameTextStyle: { fontFamily: FONT, fontSize: 14, color: TXT },
  };
}

const errorBarRender = (color: string, width: number) => (params: any, api: any) => {
  const x = api.value(0);
  const y = api.value(1);
  const e = api.value(2);
  const a = api.coord([x, y - e]);
  const b = api.coord([x, y + e]);
  return {
    type: "line",
    shape: { x1: a[0], y1: a[1], x2: b[0], y2: b[1] },
    style: { stroke: color, lineWidth: width },
  };
};

export default function App() {
  const ref = useRef<HTMLDivElement>(null);

  useEffect(() => {
    document.body.style.margin = "0";
    if (!ref.current) return;
    const chart = echarts.init(ref.current, undefined, { renderer: "svg" });

    const tessPts: [number, number][] = [];
    tessCols.forEach(([t, ms]) => ms.forEach((m) => tessPts.push([t, m])));
    const tessErrPts = tessPts.map(([t, m]) => [t, m, tessErr]);

    const graphics: any[] = [];
    legendTexts.forEach((txt, i) => {
      const y0 = GRID_TOPS[i] + 4.5;
      graphics.push({
        type: "rect", z: 100,
        shape: { x: 70.5, y: y0, width: LEGEND_W[i], height: 19, r: 2 },
        style: { fill: "rgba(255,255,255,0.85)", stroke: "#d4d4d4", lineWidth: 1 },
      });
      graphics.push({
        type: "text", z: 101,
        style: {
          x: 75, y: y0 + 10, text: txt, fill: "#333",
          fontFamily: FONT, fontSize: 11, verticalAlign: "middle", align: "left",
        },
      });
    });

    const option: any = {
      animation: false,
      backgroundColor: "#fff",
      grid: GRID_TOPS.map((top) => ({
        left: GRID_LEFT, top, width: GRID_W, height: GRID_H,
        show: true, borderColor: "#111", borderWidth: 1, backgroundColor: "transparent",
      })),
      xAxis: [
        xAxisCfg(0, -0.84, 17.65, phaseTicks, (v: number) => v.toFixed(1), "Phase (h)"),
        xAxisCfg(1, -0.84, 17.65, phaseTicks, (v: number) => v.toFixed(1), "Phase (h)"),
        xAxisCfg(2, -1.2, 25.16, phase3Ticks, (v: number) => v.toFixed(0), "Phase (h)"),
        xAxisCfg(3, 2458325, 2459019.5, jdTicks, (v: number) => (v / 1e6).toFixed(4), "Time (JD) (\u00d710\u2076)"),
      ],
      yAxis: [
        yAxisCfg(0, -11.9, -11.5, 0.1),
        yAxisCfg(1, -11.9, -11.5, 0.1),
        yAxisCfg(2, 8.4, 9.2, 0.2),
        yAxisCfg(3, -11.9, -11.5, 0.1),
      ],
      graphic: graphics,
      series: [
        // panel 1
        { type: "scatter", xAxisIndex: 0, yAxisIndex: 0, data: p1Tess, symbolSize: 4, itemStyle: { color: "#FFA500" }, z: 2 },
        { type: "line", xAxisIndex: 0, yAxisIndex: 0, data: p1Fit, smooth: true, showSymbol: false, symbol: "none", lineStyle: { color: "#1f77b4", width: 1.3 }, z: 3 },
        { type: "scatter", xAxisIndex: 0, yAxisIndex: 0, data: p1Ztf, symbolSize: 4.2, itemStyle: { color: "#000" }, z: 4 },
        // panel 2
        { type: "scatter", xAxisIndex: 1, yAxisIndex: 1, data: p2Tess, symbolSize: 4, itemStyle: { color: "#FFA500" }, z: 2 },
        { type: "line", xAxisIndex: 1, yAxisIndex: 1, data: p2Fit, smooth: true, showSymbol: false, symbol: "none", lineStyle: { color: "#1f77b4", width: 1.3 }, z: 3 },
        // panel 3
        { type: "line", xAxisIndex: 2, yAxisIndex: 2, data: p3Fit, smooth: true, showSymbol: false, symbol: "none", lineStyle: { color: "#1f77b4", width: 1.3 }, z: 3 },
        { type: "scatter", xAxisIndex: 2, yAxisIndex: 2, data: p3Ztf, symbolSize: 4.2, itemStyle: { color: "#000" }, z: 4 },
        // panel 4
        { type: "custom", xAxisIndex: 3, yAxisIndex: 3, data: tessErrPts, encode: { x: 0, y: 1 }, renderItem: errorBarRender("#ff00ff", 1.5), z: 1 },
        { type: "scatter", xAxisIndex: 3, yAxisIndex: 3, data: tessPts, symbolSize: 4, itemStyle: { color: "#FFA500" }, z: 2 },
        { type: "custom", xAxisIndex: 3, yAxisIndex: 3, data: ztfTime, encode: { x: 0, y: 1 }, renderItem: errorBarRender("#ff00ff", 1.5), z: 3 },
        { type: "scatter", xAxisIndex: 3, yAxisIndex: 3, data: ztfTime.map((d) => [d[0], d[1]]), symbolSize: 4, itemStyle: { color: "#000" }, z: 4 },
      ],
    };

    chart.setOption(option);
    return () => chart.dispose();
  }, []);

  return (
    <div
      ref={ref}
      style={{ position: "absolute", left: 0, top: 0, width: 642, height: 897, background: "#fff" }}
    />
  );
}
